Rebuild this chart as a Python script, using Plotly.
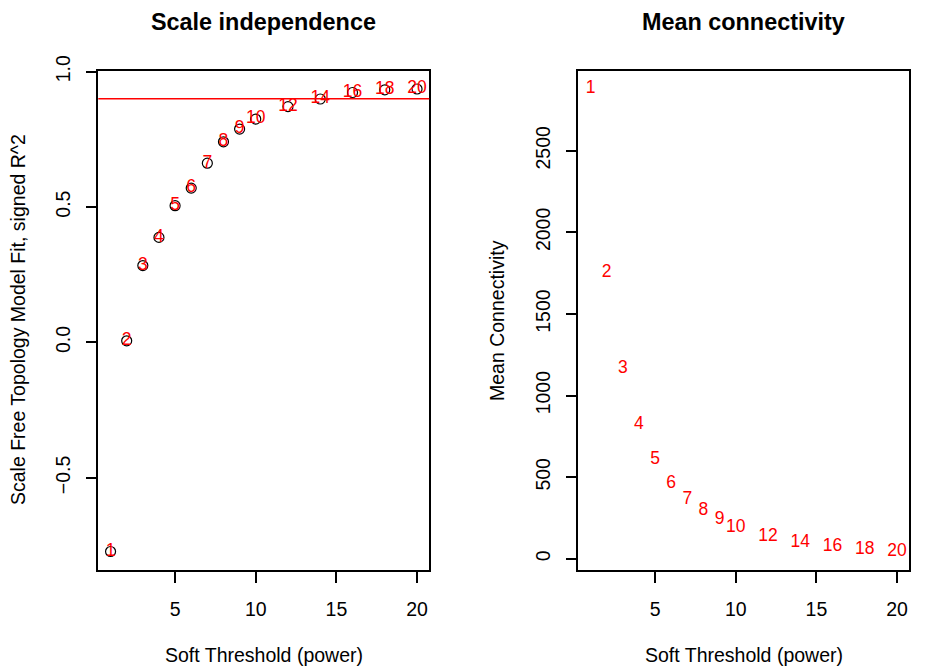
import plotly.graph_objects as go
from plotly.subplots import make_subplots

# soft-thresholding powers tested
powers = [1, 2, 3, 4, 5, 6, 7, 8, 9, 10, 12, 14, 16, 18, 20]
power_labels = [str(p) for p in powers]

# signed R^2 of the scale-free topology fit
signed_r2 = [-0.772, 0.006, 0.284, 0.388, 0.505, 0.570, 0.662, 0.741,
             0.788, 0.825, 0.871, 0.899, 0.923, 0.933, 0.936]

# mean connectivity
mean_k = [2878, 1751, 1168, 821, 606, 463, 361, 294,
          239, 194, 137, 100, 75, 59, 45]

r2_cut = 0.90

FONT = "Liberation Sans, Arial, Helvetica, sans-serif"

# the page body has an 8px margin, so the figure is a bit smaller than the window
OFF = 8
W, H = 945 - OFF, 672 - OFF


def px(x):
    return (x - OFF) / W


def py(y):
    return 1 - (y - OFF) / H


def r_range(vals):
    # R pads the data range by 4% on each side
    lo, hi = min(vals), max(vals)
    pad = (hi - lo) * 0.04
    return [lo - pad, hi + pad]


fig = make_subplots(rows=1, cols=2)

# left panel: open circles plus red labels on top
fig.add_trace(go.Scatter(x=powers, y=signed_r2, mode="markers",
                         marker=dict(symbol="circle-open", size=10,
                                     color="black", line=dict(width=1.2)),
                         hoverinfo="skip"), row=1, col=1)
fig.add_trace(go.Scatter(x=powers, y=signed_r2, mode="text",
                         text=power_labels, textposition="middle center",
                         textfont=dict(color="red", size=17.5, family=FONT)),
              row=1, col=1)

# right panel: labels only
fig.add_trace(go.Scatter(x=powers, y=mean_k, mode="text",
                         text=power_labels, textposition="middle center",
                         textfont=dict(color="red", size=17.5, family=FONT)),
              row=1, col=2)

fig.add_shape(type="line", xref="x domain", yref="y", x0=0, x1=1,
              y0=r2_cut, y1=r2_cut, line=dict(color="red", width=1.3))

axis_common = dict(showline=True, mirror=True, linecolor="black", linewidth=1.5,
                   ticks="outside", ticklen=11, tickwidth=1.5, tickcolor="black",
                   showgrid=False, zeroline=False, automargin=False,
                   tickfont=dict(size=19.5, family=FONT, color="black"))

fig.update_xaxes(axis_common, tickvals=[5, 10, 15, 20], range=r_range(powers),
                 ticklabelstandoff=10)
fig.update_yaxes(axis_common, tickangle=-90, ticklabelstandoff=8)

top, bottom = 70.5, 570
fig.update_xaxes(domain=[px(98.3), px(429.3)], row=1, col=1)
fig.update_xaxes(domain=[px(578.3), px(909.3)], row=1, col=2)
fig.update_yaxes(domain=[py(bottom), py(top)], range=r_range(signed_r2),
                 tickvals=[-0.5, 0.0, 0.5, 1.0], tickformat=".1f", row=1, col=1)
fig.update_yaxes(domain=[py(bottom), py(top)], range=r_range(mean_k),
                 tickvals=[0, 500, 1000, 1500, 2000, 2500], row=1, col=2)

# titles and axis labels, placed like the R device
lc, rc = (98.3 + 429.3) / 2, (578.3 + 909.3) / 2
notes = [
    ("<b>Scale independence</b>", lc, 22, 23.4, 0),
    ("<b>Mean connectivity</b>", rc, 22, 23.4, 0),
    ("Soft Threshold (power)", lc, 655, 19.5, 0),
    ("Soft Threshold (power)", rc, 655, 19.5, 0),
    ("Scale Free Topology Model Fit, signed R^2", 18, 320, 19.5, -90),
    ("Mean Connectivity", 497, 320, 19.5, -90),
]
for text, x, y, size, angle in notes:
    fig.add_annotation(text=text, x=px(x), y=py(y), xref="paper", yref="paper",
                       xanchor="center", yanchor="middle", showarrow=False,
                       textangle=angle, borderpad=0,
                       font=dict(size=size, family=FONT, color="black"))

fig.update_layout(width=W, height=H, margin=dict(l=0, r=0, t=0, b=0),
                  plot_bgcolor="white", paper_bgcolor="white", showlegend=False,
                  font=dict(family=FONT, color="black"))

fig.write_html("out.html")
